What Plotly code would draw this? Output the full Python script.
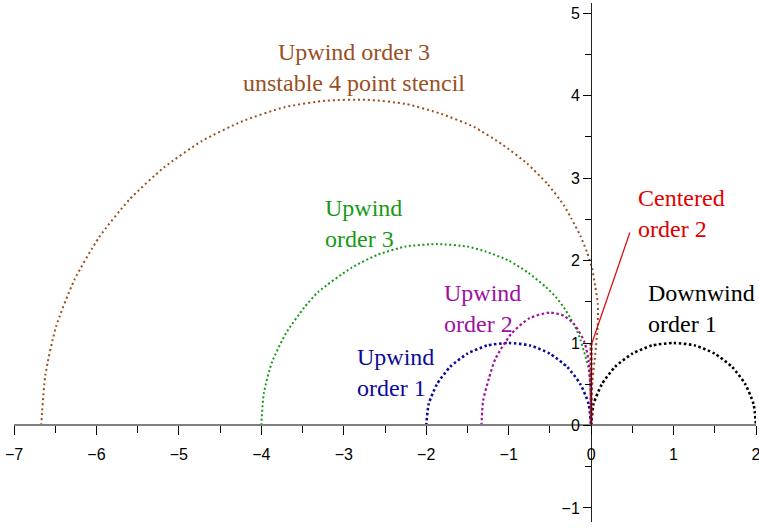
import plotly.graph_objects as go

upwind1_x = [-2.0, -1.97, -1.87, -1.71, -1.5, -1.26, -1.0, -0.74, -0.5, -0.29, -0.13, -0.03, 0.0]
upwind1_y = [0.0, 0.26, 0.5, 0.71, 0.87, 0.97, 1.0, 0.97, 0.87, 0.71, 0.5, 0.26, 0.0]

downwind1_x = [0.0, 0.03, 0.13, 0.29, 0.5, 0.74, 1.0, 1.26, 1.5, 1.71, 1.87, 1.97, 2.0]
downwind1_y = [0.0, 0.26, 0.5, 0.71, 0.87, 0.97, 1.0, 0.97, 0.87, 0.71, 0.5, 0.26, 0.0]

upwind2_x = [-1.33, -1.31, -1.24, -1.16, -0.97, -0.75, -0.5, -0.33, -0.2, -0.08, -0.03, -0.01, 0.0, 0.0]
upwind2_y = [0.0, 0.3, 0.57, 0.81, 1.11, 1.3, 1.37, 1.33, 1.22, 1.01, 0.78, 0.52, 0.25, 0.0]

upwind3_x = [-4.0, -3.97, -3.87, -3.7, -3.48, -3.31, -2.91, -2.59, -2.25, -1.87, -1.5, -1.28,
             -1.0, -0.76, -0.55, -0.43, -0.33, -0.25, -0.18, -0.13, -0.09, -0.055, -0.03,
             -0.018, -0.009, -0.001, 0.0]
upwind3_y = [0.0, 0.39, 0.77, 1.12, 1.43, 1.62, 1.91, 2.07, 2.17, 2.2, 2.17, 2.11,
             2.0, 1.85, 1.68, 1.56, 1.43, 1.3, 1.17, 1.04, 0.91, 0.79, 0.68,
             0.57, 0.46, 0.27, 0.0]

stencil4_x = [-6.67, -6.62, -6.49, -6.27, -5.97, -5.6, -5.18, -4.72, -4.23, -3.72, -3.21, -2.72,
              -2.25, -1.82, -1.42, -1.08, -0.78, -0.53, -0.33, -0.24, -0.13, -0.05, 0.01,
              0.05, 0.08, 0.08, 0.05, 0.015, 0.002, 0.0]
stencil4_y = [0.0, 0.61, 1.2, 1.76, 2.28, 2.74, 3.13, 3.45, 3.69, 3.86, 3.94, 3.95,
              3.9, 3.78, 3.62, 3.41, 3.18, 2.93, 2.67, 2.51, 2.3, 2.1, 1.91,
              1.69, 1.48, 1.21, 0.86, 0.53, 0.26, 0.0]

centered2_x = [0.0, 0.0]
centered2_y = [0.0, 1.0]

x_ticks = [-7, -6, -5, -4, -3, -2, -1, 0, 1, 2]
y_ticks = [-1, 0, 1, 2, 3, 4, 5]

BROWN = "#9a4f1f"
GREEN = "#169a16"
MAGENTA = "#a010a0"
BLUE = "#0c0c98"
RED = "#e00000"

fig = go.Figure()

curves = [
    (stencil4_x, stencil4_y, BROWN, 2, "2px,3px"),
    (upwind3_x, upwind3_y, GREEN, 2, "2px,2.5px"),
    (upwind1_x, upwind1_y, BLUE, 2.6, "2.5px,2.5px"),
    (downwind1_x, downwind1_y, "black", 2.6, "2.5px,2.5px"),
    (upwind2_x, upwind2_y, MAGENTA, 2.2, "2.5px,2.5px"),
    (centered2_x, centered2_y, RED, 3, "3px,2px"),
]
for xs, ys, col, w, dash in curves:
    fig.add_trace(go.Scatter(x=xs, y=ys, mode="lines",
                             line=dict(color=col, width=w, dash=dash, shape="spline", smoothing=0.6),
                             showlegend=False, hoverinfo="skip"))

# labels
label_font = "Liberation Serif, Times New Roman, serif"
labels = [
    ("Upwind order 3<br>unstable 4 point stencil", -2.875, 4.34, BROWN, "center"),
    ("Upwind<br>order 3", -3.25, 2.45, GREEN, "left"),
    ("Upwind<br>order 2", -1.81, 1.42, MAGENTA, "left"),
    ("Upwind<br>order 1", -2.86, 0.64, BLUE, "left"),
    ("Centered<br>order 2", 0.55, 2.565, RED, "left"),
    ("Downwind<br>order 1", 0.66, 1.42, "black", "left"),
]
for text, x, y, col, anchor in labels:
    fig.add_annotation(x=x, y=y, text=text, showarrow=False, xanchor=anchor, yanchor="middle",
                       align=anchor, font=dict(family=label_font, size=24, color=col))

# leader line for the centered label
fig.add_shape(type="line", x0=0.47, y0=2.34, x1=0.01, y1=1.0,
              line=dict(color=RED, width=1.2), layer="above")

tick_font = dict(family="Liberation Sans, Arial, sans-serif", size=16, color="black")
fig.update_layout(
    width=759, height=528,
    margin=dict(l=14, r=3, t=3, b=6),
    paper_bgcolor="white", plot_bgcolor="white",
    showlegend=False,
    xaxis=dict(range=[-7, 2], anchor="free", position=1.171 / 6.295,
               showgrid=False, zeroline=False, showline=True, linecolor="#808080", linewidth=2,
               tickvals=x_ticks, ticks="outside", ticklen=9, tickwidth=1, tickcolor="black",
               ticklabelstandoff=5, ticklabeloverflow="allow",
               minor=dict(ticks="outside", dtick=0.5, ticklen=7, tickwidth=1, tickcolor="black"),
               tickfont=tick_font, automargin=False, fixedrange=True),
    yaxis=dict(range=[-1.171, 5.124], anchor="free", position=7 / 9,
               showgrid=False, zeroline=False, showline=True, linecolor="#222222", linewidth=1.2,
               tickvals=y_ticks, ticks="outside", ticklen=8, tickwidth=1, tickcolor="black",
               ticklabeloverflow="allow",
               minor=dict(ticks="outside", dtick=0.5, ticklen=6, tickwidth=1, tickcolor="black"),
               tickfont=tick_font, automargin=False, fixedrange=True),
)

# drop the default page margin so the figure fills the window, and hide the modebar
fig.write_html("out.html", config={"displayModeBar": False},
               post_script="document.body.style.margin = '0';")
